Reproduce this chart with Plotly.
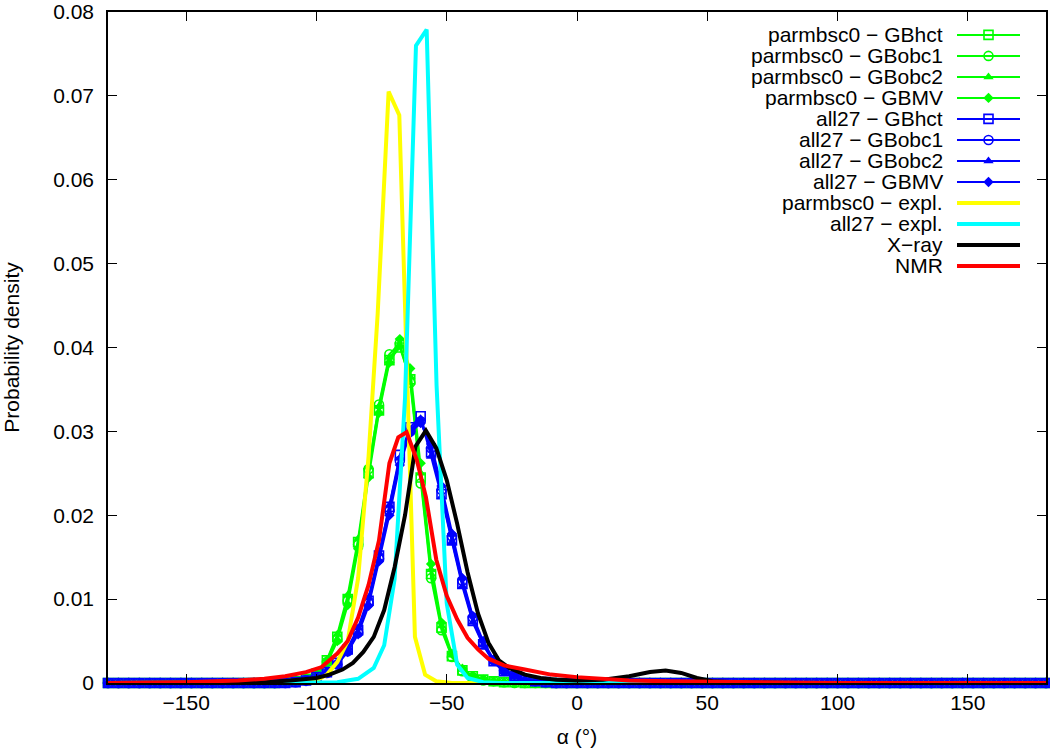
import plotly.graph_objects as go

# bin centres of the GB histograms (4 degree bins) and the window where they are non-zero
gb_x = list(range(-180, 181, 4))
win_start = -112

# parmbsc0 (green) implicit-solvent runs, values from -112 to -8
bsc0_hct = [0.0001, 0.0002, 0.0005, 0.0011, 0.0027, 0.0055, 0.0100, 0.0168, 0.0250, 0.0325, 0.0385, 0.0400, 0.0362,
            0.0245, 0.0130, 0.0066, 0.0032, 0.0015, 0.0008, 0.0004, 0.0002, 0.0001, 0.0001, 0, 0, 0, 0]
bsc0_obc1 = [0.0001, 0.0002, 0.0004, 0.0010, 0.0025, 0.0052, 0.0098, 0.0165, 0.0255, 0.0332, 0.0392, 0.0405, 0.0358,
             0.0238, 0.0125, 0.0063, 0.0031, 0.0014, 0.0007, 0.0003, 0.0002, 0.0001, 0, 0, 0, 0, 0]
bsc0_obc2 = [0.0001, 0.0002, 0.0005, 0.0012, 0.0028, 0.0058, 0.0105, 0.0172, 0.0258, 0.0330, 0.0388, 0.0402, 0.0365,
             0.0250, 0.0135, 0.0068, 0.0033, 0.0016, 0.0008, 0.0004, 0.0002, 0.0001, 0.0001, 0, 0, 0, 0]
bsc0_gbmv = [0.0001, 0.0002, 0.0004, 0.0009, 0.0023, 0.0050, 0.0093, 0.0160, 0.0245, 0.0322, 0.0382, 0.0410, 0.0375,
             0.0262, 0.0142, 0.0072, 0.0035, 0.0017, 0.0008, 0.0004, 0.0002, 0.0001, 0, 0, 0, 0, 0]

# all27 (blue) implicit-solvent runs
c27_hct = [0, 0.0001, 0.0003, 0.0007, 0.0013, 0.0024, 0.0040, 0.0063, 0.0098, 0.0152, 0.0210, 0.0272, 0.0305,
           0.0318, 0.0275, 0.0225, 0.0170, 0.0118, 0.0074, 0.0046, 0.0026, 0.0014, 0.0008, 0.0004, 0.0002, 0.0001, 0]
c27_obc1 = [0, 0.0001, 0.0003, 0.0006, 0.0012, 0.0022, 0.0038, 0.0060, 0.0095, 0.0148, 0.0205, 0.0265, 0.0300,
            0.0312, 0.0280, 0.0230, 0.0175, 0.0122, 0.0078, 0.0048, 0.0027, 0.0015, 0.0008, 0.0004, 0.0002, 0.0001, 0]
c27_obc2 = [0, 0.0001, 0.0003, 0.0007, 0.0014, 0.0025, 0.0042, 0.0066, 0.0102, 0.0155, 0.0212, 0.0268, 0.0302,
            0.0315, 0.0270, 0.0222, 0.0168, 0.0115, 0.0072, 0.0045, 0.0025, 0.0013, 0.0007, 0.0003, 0.0002, 0.0001, 0]
c27_gbmv = [0, 0.0001, 0.0002, 0.0006, 0.0012, 0.0022, 0.0037, 0.0058, 0.0092, 0.0145, 0.0200, 0.0260, 0.0298,
            0.0310, 0.0285, 0.0235, 0.0178, 0.0125, 0.0080, 0.0050, 0.0028, 0.0015, 0.0009, 0.0004, 0.0002, 0.0001, 0]

# explicit solvent runs
bsc0_expl_x = [-180, -120, -104, -100, -96, -92, -88, -84, -80, -76.5, -72.3, -68.2, -62.2, -58.3, -54, -48, 180]
bsc0_expl_y = [0, 0, 0.0001, 0.0003, 0.0010, 0.0025, 0.0050, 0.0125, 0.0270, 0.0440, 0.0705, 0.0677, 0.0055,
               0.0010, 0.0002, 0, 0]
c27_expl_x = [-180, -100, -92, -84, -78, -74, -70, -66, -61.8, -57.7, -53.9, -50, -46, -42, -36, -30, 180]
c27_expl_y = [0, 0, 0.0001, 0.0005, 0.0018, 0.0045, 0.0124, 0.0340, 0.0760, 0.0779, 0.0355, 0.0095, 0.0022,
              0.0006, 0.0001, 0, 0]

# experimental distributions
xray_x = [-180, -140, -120, -110, -100, -95, -90, -86, -82, -78, -74, -70, -66, -62, -58, -54, -50, -46, -42, -38,
          -34, -30, -26, -20, -14, -8, 0, 10, 20, 28, 34, 40, 46, 52, 60, 80, 120, 180]
xray_y = [0, 0, 0.0001, 0.0003, 0.0006, 0.0010, 0.0016, 0.0024, 0.0037, 0.0055, 0.0087, 0.0138, 0.0200, 0.0282,
          0.0301, 0.0280, 0.0242, 0.0190, 0.0132, 0.0083, 0.0048, 0.0027, 0.0018, 0.0010, 0.0006, 0.0004, 0.0003,
          0.0004, 0.0008, 0.0013, 0.0015, 0.0012, 0.0006, 0.0002, 0.0001, 0, 0, 0]
nmr_x = [-180, -150, -130, -120, -112, -104, -98, -92, -88, -84, -80, -76, -72, -68.6, -65.4, -61.5, -58, -54, -50,
         -46, -42, -38, -34, -28, -20, -10, 0, 10, 20, 35, 60, 100, 180]
nmr_y = [0, 0.0001, 0.0003, 0.0005, 0.0008, 0.0013, 0.0019, 0.0035, 0.0050, 0.0078, 0.0117, 0.0170, 0.0262,
         0.0293, 0.0299, 0.0266, 0.0222, 0.0147, 0.0104, 0.0076, 0.0054, 0.0040, 0.0029, 0.0021, 0.0016, 0.0010,
         0.0007, 0.0005, 0.0003, 0.0002, 0.0001, 0, 0]

x_ticks = [-150, -100, -50, 0, 50, 100, 150]
y_ticks = [0, 0.01, 0.02, 0.03, 0.04, 0.05, 0.06, 0.07, 0.08]
y_ticktext = ['0', '0.01', '0.02', '0.03', '0.04', '0.05', '0.06', '0.07', '0.08']

labels = ['parmbsc0 − GBhct', 'parmbsc0 − GBobc1', 'parmbsc0 − GBobc2', 'parmbsc0 − GBMV',
          'all27 − GBhct', 'all27 − GBobc1', 'all27 − GBobc2', 'all27 − GBMV',
          'parmbsc0 − expl.', 'all27 − expl.', 'X−ray', 'NMR']


def full(vals):
    # put the window values onto the whole -180..180 grid (zero outside)
    i0 = gb_x.index(win_start)
    return [0] * i0 + vals + [0] * (len(gb_x) - i0 - len(vals))


GREEN = '#00ff00'
BLUE = '#0000ff'
markers = [dict(symbol='square-open', size=9, line=dict(width=1.6)),
           dict(symbol='circle-open', size=9, line=dict(width=1.6)),
           dict(symbol='triangle-up', size=9),
           dict(symbol='diamond', size=8)]

gb_series = [(bsc0_hct, GREEN), (bsc0_obc1, GREEN), (bsc0_obc2, GREEN), (bsc0_gbmv, GREEN),
             (c27_hct, BLUE), (c27_obc1, BLUE), (c27_obc2, BLUE), (c27_gbmv, BLUE)]
line_series = [(bsc0_expl_x, bsc0_expl_y, '#ffff00'), (c27_expl_x, c27_expl_y, '#00ffff'),
               (xray_x, xray_y, '#000000'), (nmr_x, nmr_y, '#ff0000')]

fig = go.Figure()

for k, (vals, col) in enumerate(gb_series):
    m = dict(markers[k % 4])
    m['color'] = col
    fig.add_trace(go.Scatter(x=gb_x, y=full(vals), mode='lines+markers', name=labels[k],
                             line=dict(color=col, width=2), marker=m, cliponaxis=False))

for k, (xs, ys, col) in enumerate(line_series):
    fig.add_trace(go.Scatter(x=xs, y=ys, mode='lines', name=labels[8 + k],
                             line=dict(color=col, width=4)))

# hand-made gnuplot style key: text right aligned, sample on the right
# overlay axes use pixel units of the plot area (x: page px, y: px from the top)
key_cols = [GREEN] * 4 + [BLUE] * 4 + ['#ffff00', '#00ffff', '#000000', '#ff0000']
for k, lab in enumerate(labels):
    yy = 20 + 21.1 * k
    wide = k >= 8
    fig.add_trace(go.Scatter(x=[957, 1020], y=[yy, yy], mode='lines', xaxis='x2', yaxis='y2',
                             line=dict(color=key_cols[k], width=4 if wide else 2), showlegend=False,
                             hoverinfo='skip'))
    if not wide:
        m = dict(markers[k % 4])
        m['color'] = key_cols[k]
        fig.add_trace(go.Scatter(x=[988.5], y=[yy], mode='markers', xaxis='x2', yaxis='y2',
                                 marker=m, showlegend=False, hoverinfo='skip'))
    fig.add_annotation(x=945, y=yy, xref='x2', yref='y2', text=lab, showarrow=False,
                       xanchor='right', yanchor='middle', font=dict(size=21, color='black'))

axis_style = dict(showline=True, linecolor='black', linewidth=1.5, mirror='ticks', ticks='inside',
                  ticklen=9, tickcolor='black', tickwidth=1.2, showgrid=False, zeroline=False,
                  automargin=False, ticklabeloverflow='allow', tickfont=dict(size=21, color='black'))

fig.update_layout(
    width=1050, height=748,
    margin=dict(l=108, r=4, t=12, b=65),
    paper_bgcolor='white', plot_bgcolor='white',
    font=dict(family='Liberation Sans, Arial, sans-serif', size=21, color='black'),
    showlegend=False,
    xaxis=dict(range=[-180, 180], tickvals=x_ticks, ticklabelstandoff=0,
               title=dict(text='α (°)', standoff=16, font=dict(size=21)), **axis_style),
    yaxis=dict(range=[0, 0.08], tickvals=y_ticks, ticktext=y_ticktext, ticklabelstandoff=8,
               title=dict(text='Probability density', standoff=42, font=dict(size=21)), **axis_style),
    xaxis2=dict(overlaying='x', anchor='y2', range=[108, 1046], visible=False),
    yaxis2=dict(overlaying='y', anchor='x2', range=[671, -3], visible=False),
)

# drop the default body margin so the figure sits at the page corner
fig.write_html('out.html', config={'displayModeBar': False},
               post_script="document.body.style.margin='0';")
